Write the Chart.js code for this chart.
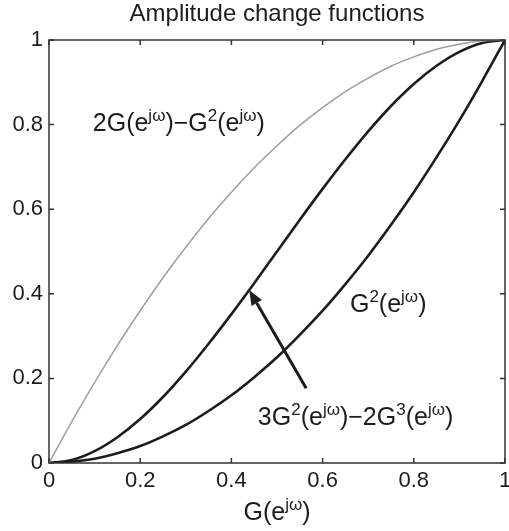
<!DOCTYPE html>
<html>
<head>
<meta charset="utf-8">
<script src="https://cdn.jsdelivr.net/npm/chart.js@4/dist/chart.umd.min.js"></script>
<style>
  body { margin: 0; background: #fff; }
  canvas { display: block; }
</style>
</head>
<body>
<canvas id="ampChart" width="509" height="531"></canvas>
<script>
// G(e^jw) sample points on the horizontal axis
const gValues = [0, 0.05, 0.1, 0.15, 0.2, 0.25, 0.3, 0.35, 0.4, 0.45, 0.5,
                 0.55, 0.6, 0.65, 0.7, 0.75, 0.8, 0.85, 0.9, 0.95, 1];

// 2G - G^2 (upper, grey curve)
const twoGMinusG2 = [0, 0.098, 0.19, 0.278, 0.36, 0.438, 0.51, 0.578, 0.64, 0.698, 0.75,
                     0.798, 0.84, 0.878, 0.91, 0.938, 0.96, 0.978, 0.99, 0.998, 1];

// 3G^2 - 2G^3 (middle curve)
const threeG2MinusTwoG3 = [0, 0.007, 0.028, 0.061, 0.104, 0.156, 0.216, 0.282, 0.352, 0.425, 0.5,
                           0.575, 0.648, 0.718, 0.784, 0.844, 0.896, 0.939, 0.972, 0.993, 1];

// G^2 (lower curve)
const gSquared = [0, 0.003, 0.01, 0.023, 0.04, 0.063, 0.09, 0.123, 0.16, 0.203, 0.25,
                  0.303, 0.36, 0.423, 0.49, 0.563, 0.64, 0.723, 0.81, 0.903, 1];

const tickValues = [0, 0.2, 0.4, 0.6, 0.8, 1];
const tickLabels = ['0', '0.2', '0.4', '0.6', '0.8', '1'];

const FONT = "'Liberation Sans', Arial, Helvetica, sans-serif";
const INK = '#1c1c1c';

const toPoints = ys => gValues.map((g, i) => ({ x: g, y: ys[i] }));

// text made of plain runs and superscript runs
function drawRich(ctx, parts, x, y, size, align) {
  const supSize = Math.round(size * 0.68);
  const widths = parts.map(([t, sup]) => {
    ctx.font = `${sup ? supSize : size}px ${FONT}`;
    return ctx.measureText(t).width;
  });
  const total = widths.reduce((a, b) => a + b, 0);
  let cx = align === 'center' ? x - total / 2 : x;
  ctx.textAlign = 'left';
  ctx.textBaseline = 'alphabetic';
  parts.forEach(([t, sup], i) => {
    ctx.font = `${sup ? supSize : size}px ${FONT}`;
    ctx.fillText(t, cx, sup ? y - size * 0.4 : y);
    cx += widths[i];
  });
}

const chartTitle = 'Amplitude change functions';
const curveLabels = [
  { x: 0.096, y: 0.785, parts: [['2G(e'], ['jω', 1], [')−G'], ['2', 1], ['(e'], ['jω', 1], [')']] },
  { x: 0.66, y: 0.357, parts: [['G'], ['2', 1], ['(e'], ['jω', 1], [')']] },
  { x: 0.458, y: 0.09, parts: [['3G'], ['2', 1], ['(e'], ['jω', 1], [')−2G'], ['3', 1], ['(e'], ['jω', 1], [')']] }
];
const arrowFrom = { x: 0.564, y: 0.177 };
const arrowTo = { x: 0.439, y: 0.409 };

const frameAndNotes = {
  id: 'frameAndNotes',
  afterDatasetsDraw(chart) {
    const { ctx, chartArea: { left, right, top, bottom } } = chart;
    const xs = chart.scales.x, ys = chart.scales.y;
    ctx.save();

    // axes box with inward ticks on all four sides
    ctx.strokeStyle = '#333';
    ctx.lineWidth = 1.5;
    ctx.strokeRect(left, top, right - left, bottom - top);
    ctx.beginPath();
    tickValues.forEach(v => {
      const px = xs.getPixelForValue(v), py = ys.getPixelForValue(v);
      ctx.moveTo(px, bottom); ctx.lineTo(px, bottom - 5);
      ctx.moveTo(px, top); ctx.lineTo(px, top + 5);
      ctx.moveTo(left, py); ctx.lineTo(left + 5, py);
      ctx.moveTo(right, py); ctx.lineTo(right - 5, py);
    });
    ctx.stroke();

    // title, centred over the plot box
    ctx.fillStyle = INK;
    drawRich(ctx, [[chartTitle]], (left + right) / 2, 21, 24, 'center');

    // curve labels
    curveLabels.forEach(l => {
      drawRich(ctx, l.parts, xs.getPixelForValue(l.x), ys.getPixelForValue(l.y), 25, 'left');
    });

    // arrow pointing at the middle curve
    const x0 = xs.getPixelForValue(arrowFrom.x), y0 = ys.getPixelForValue(arrowFrom.y);
    const x1 = xs.getPixelForValue(arrowTo.x), y1 = ys.getPixelForValue(arrowTo.y);
    const ang = Math.atan2(y1 - y0, x1 - x0);
    const headLen = 15, headW = 6;
    const bx = x1 - headLen * Math.cos(ang), by = y1 - headLen * Math.sin(ang);
    ctx.strokeStyle = INK;
    ctx.lineWidth = 3;
    ctx.beginPath();
    ctx.moveTo(x0, y0);
    ctx.lineTo(bx, by);
    ctx.stroke();
    ctx.beginPath();
    ctx.moveTo(x1, y1);
    ctx.lineTo(bx + headW * Math.sin(ang), by - headW * Math.cos(ang));
    ctx.lineTo(bx - headW * Math.sin(ang), by + headW * Math.cos(ang));
    ctx.closePath();
    ctx.fill();

    // x axis title
    drawRich(ctx, [['G(e'], ['jω', 1], [')']], (left + right) / 2, 520, 25, 'center');
    ctx.restore();
  }
};

new Chart(document.getElementById('ampChart'), {
  type: 'line',
  data: {
    datasets: [
      { data: toPoints(twoGMinusG2), borderColor: '#9e9e9e', borderWidth: 1.5 },
      { data: toPoints(threeG2MinusTwoG3), borderColor: INK, borderWidth: 2.6 },
      { data: toPoints(gSquared), borderColor: INK, borderWidth: 2.6 }
    ]
  },
  options: {
    responsive: false,
    animation: false,
    layout: { padding: { left: 0, right: 4, top: 40, bottom: 0 } },
    elements: {
      point: { radius: 0 },
      line: { cubicInterpolationMode: 'monotone', fill: false }
    },
    plugins: {
      legend: { display: false },
      tooltip: { enabled: false },
      title: { display: false }
    },
    scales: {
      x: {
        type: 'linear', min: 0, max: 1,
        grid: { display: false, drawTicks: false },
        border: { display: false },
        afterBuildTicks: s => { s.ticks = tickValues.map(v => ({ value: v })); },
        afterFit: s => { s.height = 68; s.paddingLeft = 0; s.paddingRight = 0; },
        ticks: {
          callback: (v, i) => tickLabels[i],
          color: INK, padding: 5, maxRotation: 0, autoSkip: false,
          font: { family: FONT, size: 22 }
        }
      },
      y: {
        type: 'linear', min: 0, max: 1,
        grid: { display: false, drawTicks: false },
        border: { display: false },
        afterBuildTicks: s => { s.ticks = tickValues.map(v => ({ value: v })); },
        afterFit: s => { s.width = 49; s.paddingTop = 0; s.paddingBottom = 0; },
        ticks: {
          callback: (v, i) => tickLabels[i],
          color: INK, padding: 6, autoSkip: false,
          font: { family: FONT, size: 22 }
        }
      }
    }
  },
  plugins: [frameAndNotes]
});
</script>
</body>
</html>
